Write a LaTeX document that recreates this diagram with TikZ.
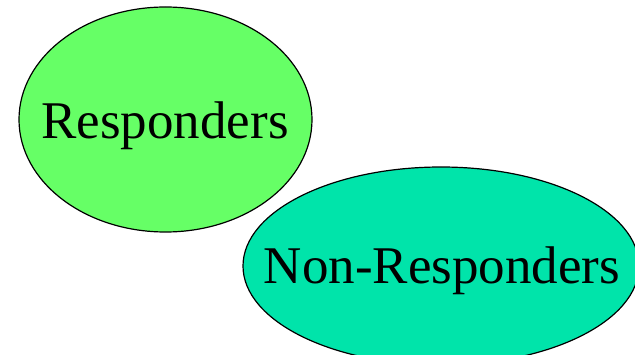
\documentclass[tikz,border=0pt]{standalone}
\usepackage{fontspec}
\setmainfont{Liberation Serif}
\definecolor{respgreen}{RGB}{102,255,102}
\definecolor{nonrespteal}{RGB}{0,228,170}
\begin{document}
\begin{tikzpicture}[x=1pt,y=-1pt,
  blob/.style={draw=black, line width=1.2pt},
  label/.style={anchor=base, inner sep=0pt, font=\fontsize{53}{60}\selectfont}]
  \clip (0,0) rectangle (635,355);
  \useasboundingbox (0,0) rectangle (635,355);
  % the two groups
  \path[blob, fill=respgreen] (165.5,119.5) ellipse [x radius=146.5, y radius=112.5];
  \path[blob, fill=nonrespteal] (441,266) ellipse [x radius=198, y radius=99];
  % their names
  \node[label] (resp) at (165,139) {Responders};
  \node[label] (nonresp) at (442,284) {Non-Responders};
\end{tikzpicture}
\end{document}
